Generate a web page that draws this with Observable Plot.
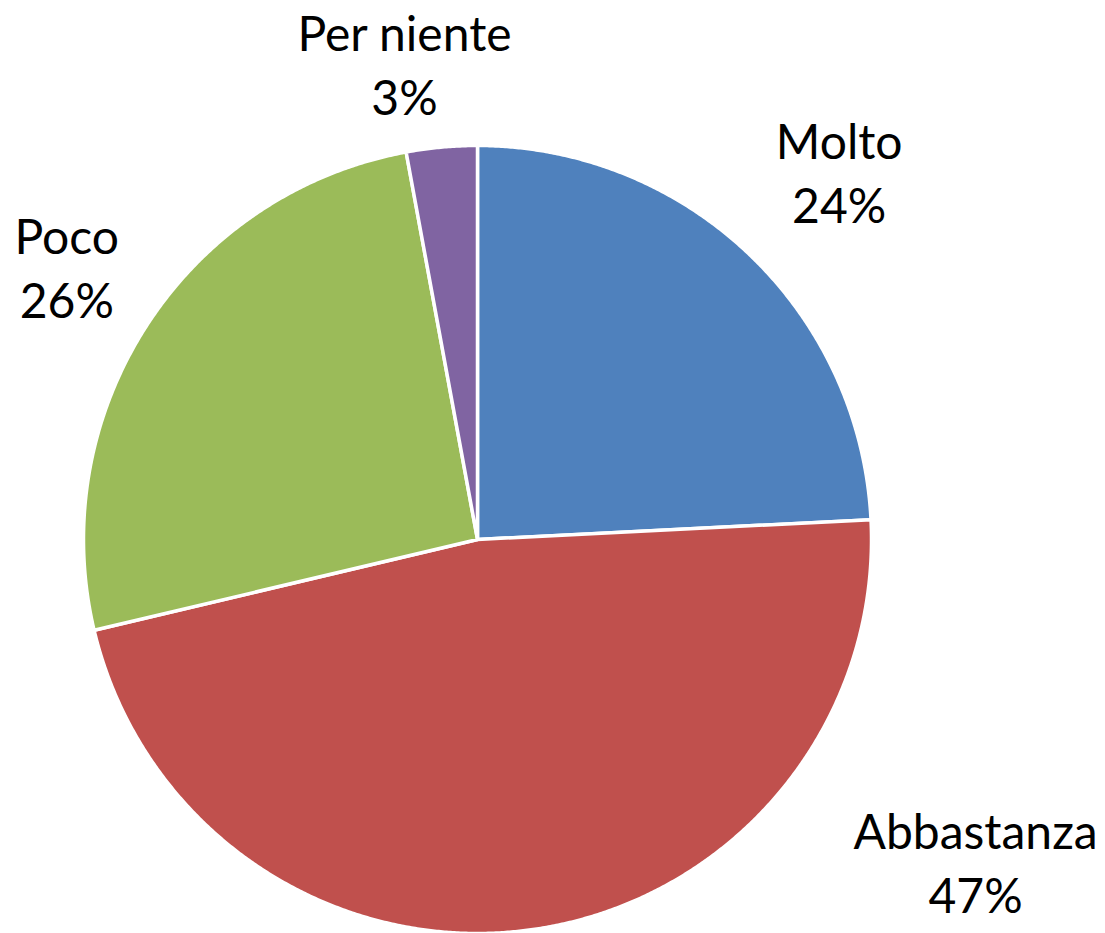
<!DOCTYPE html>
<html><head><meta charset="utf-8">
<script src="https://cdn.jsdelivr.net/npm/d3@7"></script>
<script src="https://cdn.jsdelivr.net/npm/@observablehq/plot@0.6"></script>
<style>html,body{margin:0;padding:0;background:#fff}svg{display:block}</style>
</head><body><div id="chart"></div>
<script>
// Data
const categories = ["Molto", "Abbastanza", "Poco", "Per niente"];
const values = [24.2, 47.1, 25.8, 2.9];
const colors = ["#4F81BD", "#C0504D", "#9BBB59", "#8064A2"];

// Label layout (polar: degrees clockwise from 12 o'clock, radius in pie radii)
const labelAngle = [44.4, 122.8, 303.7, 351.3];
const labelRadius = [1.312, 1.504, 1.253, 1.225];

const total = d3.sum(values);
const rows = categories.map((c, i) => ({category: c, value: values[i]}));
const arcs = d3.pie().sort(null).value(d => d.value)(rows);

const pt = a => [Math.sin(a), Math.cos(a)];
const features = arcs.map(a => {
  const n = Math.max(2, Math.ceil((a.endAngle - a.startAngle) / 0.005));
  const ring = [[0, 0]];
  for (let k = 0; k <= n; k++) ring.push(pt(a.startAngle + (a.endAngle - a.startAngle) * k / n));
  ring.push([0, 0]);
  return {type: "Feature", properties: {category: a.data.category}, geometry: {type: "Polygon", coordinates: [ring]}};
});

const labels = rows.map((d, i) => {
  const ang = labelAngle[i] * Math.PI / 180;
  return {
    x: Math.sin(ang) * labelRadius[i],
    y: Math.cos(ang) * labelRadius[i],
    text: `${d.category}\n${Math.round(d.value / total * 100)}%`
  };
});

const chart = Plot.plot({
  width: 1105,
  height: 933,
  marginLeft: 83,
  marginRight: 234,
  marginTop: 145,
  marginBottom: 0,
  projection: {
    type: "reflect-y",
    clip: false,
    domain: {type: "MultiPoint", coordinates: [[-1, -1], [1, 1]]}
  },
  color: {domain: categories, range: colors},
  marks: [
    Plot.geo(features, {fill: d => d.properties.category, stroke: "white", strokeWidth: 3.5, strokeLinejoin: "round"}),
    Plot.text(labels, {x: "x", y: "y", text: "text", fontSize: 48, fontFamily: "Lato", fill: "black", lineHeight: 1.34, textAnchor: "middle", lineAnchor: "middle", clip: false})
  ]
});
document.getElementById("chart").append(chart);
</script>
</body></html>
